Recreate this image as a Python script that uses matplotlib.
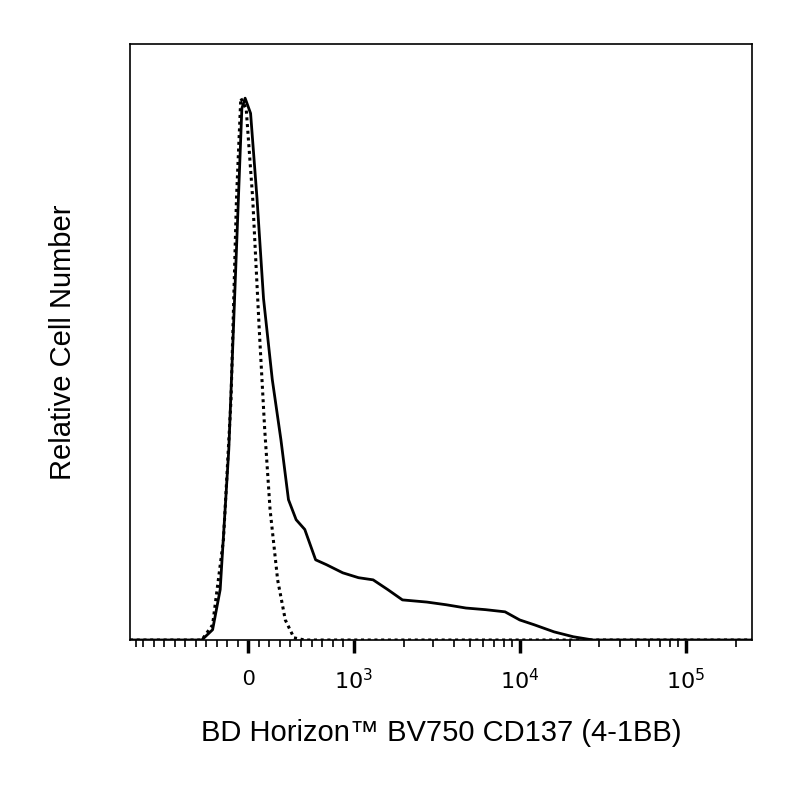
import matplotlib
matplotlib.use("Agg")
import matplotlib.pyplot as plt
import numpy as np

plt.rcParams['font.family'] = ['Liberation Sans', 'DejaVu Sans']

solid_x = [-1200, -443, -340, -268, -186, -113, -62, -31, 21, 82, 144, 227, 309, 381, 454, 536, 639, 742, 897,
           1070, 1311, 1606, 1968, 2762, 3618, 4746, 6221, 8157, 10000, 12250, 16100, 21000, 27600, 250000]
solid_y = [0, 0, 1.9, 9.3, 35.2, 72.2, 98.1, 100, 97.2, 81.5, 63, 48.1, 37, 25.9, 22.2, 20.4, 14.8, 13.9, 12.4,
           11.5, 11.1, 9.3, 7.4, 7.0, 6.5, 5.9, 5.6, 5.2, 3.7, 2.8, 1.5, 0.6, 0, 0]
dot_x = [-1200, -443, -340, -237, -165, -113, -72, -21, 41, 103, 155, 206, 278, 351, 433, 536, 250000]
dot_y = [0, 0, 2.8, 18.5, 44.4, 81.5, 100, 98.1, 81.5, 57.4, 38.9, 24.1, 11.1, 3.7, 0.4, 0, 0]

fig = plt.figure(figsize=(8, 8), dpi=100)
ax = fig.add_axes([0.1625, 0.2, 0.7775, 0.745])
ax.set_xscale('symlog', linthresh=1000, linscale=0.57)
ax.plot(solid_x, solid_y, color='black', lw=2)
ax.plot(dot_x, dot_y, color='black', lw=2.2, ls=(0, (1, 1.2)))
ax.set_xlim(-1200, 250000)
ax.set_ylim(0, 110)
ax.set_yticks([])

major = [0, 1000, 10000, 100000]
ax.set_xticks(major)
ax.set_xticklabels(['0', r'$10^3$', r'$10^4$', r'$10^5$'], fontsize=16)
minor = [v for v in range(-1100, 1000, 100) if v != 0]
for d in (1000, 10000, 100000):
    minor += [d * k for k in range(2, 10) if d * k <= 250000]
ax.set_xticks(minor, minor=True)
ax.tick_params(axis='x', which='major', direction='out', length=9, width=2.5, pad=12)
ax.tick_params(axis='x', which='minor', direction='out', length=5, width=1.2)
for s in ax.spines.values():
    s.set_linewidth(1.2)

ax.set_xlabel('BD Horizon™ BV750 CD137 (4-1BB)', fontsize=21, labelpad=18)
ax.set_ylabel('Relative Cell Number', fontsize=21, labelpad=38)
fig.savefig('out.png', dpi=100)
